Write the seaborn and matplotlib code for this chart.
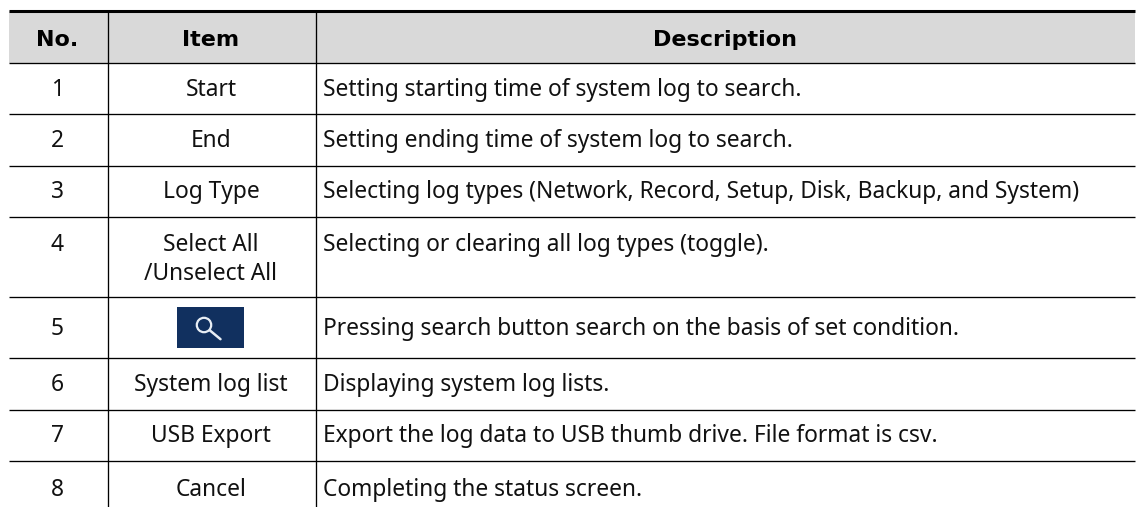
import matplotlib
matplotlib.use("Agg")
import matplotlib.pyplot as plt
import seaborn as sns
from matplotlib.patches import Circle, Rectangle

# table contents
headers = ["No.", "Item", "Description"]
numbers = ["1", "2", "3", "4", "5", "6", "7", "8"]
items = ["Start", "End", "Log Type", "Select All\n/Unselect All", "", "System log list", "USB Export", "Cancel"]
descriptions = [
    "Setting starting time of system log to search.",
    "Setting ending time of system log to search.",
    "Selecting log types (Network, Record, Setup, Disk, Backup, and System)",
    "Selecting or clearing all log types (toggle).",
    "Pressing search button search on the basis of set condition.",
    "Displaying system log lists.",
    "Export the log data to USB thumb drive. File format is csv.",
    "Completing the status screen.",
]

sns.set_theme(style="white")
plt.rcParams["font.family"] = ["Noto Sans", "DejaVu Sans"]

W, H = 1136, 507
fig = plt.figure(figsize=(W / 100, H / 100), dpi=100)
ax = fig.add_axes([0, 0, 1, 1])
ax.set_xlim(0, W)
ax.set_ylim(H, 0)
ax.axis("off")

# layout in pixels
left, right = 8.5, 1135
col1, col2 = 107.5, 315.5
top, head_bottom = 11, 63
row_lines = [63, 114, 165.5, 216.5, 296.5, 358, 409.5, 460.5, 507]
text_size = 16.4
ink = "#111111"

# grey header band as a one cell heatmap
band = fig.add_axes([left / W, 1 - head_bottom / H, (right - left) / W, (head_bottom - top) / H])
sns.heatmap([[1]], ax=band, cmap=["#d9d9d9"], cbar=False, xticklabels=False, yticklabels=False)

ax.set_zorder(band.get_zorder() + 1)
ax.patch.set_visible(False)

ax.hlines(top, left, right, color="black", lw=2.2)
ax.hlines(row_lines[:-1], left, right, color="black", lw=0.95)
ax.vlines([col1, col2], top, H, color="black", lw=0.95)

header_x = [57, 211, 725]
for x, label in zip(header_x, headers):
    ax.text(x, 39.5, label, ha="center", va="center", fontsize=16, fontweight="bold",
            color="black", family=["DejaVu Sans"])

for i, (num, item, desc) in enumerate(zip(numbers, items, descriptions)):
    yc = (row_lines[i] + row_lines[i + 1]) / 2 + 1.5
    if i == 7:
        yc = 489.5
    if num == "4":
        # the tall row keeps its text at the top
        yc = 245
        ax.text(211, 274, item.split("\n")[1], ha="center", va="center", fontsize=text_size, color=ink)
        item = item.split("\n")[0]
    ax.text(57.5, yc, num, ha="center", va="center", fontsize=text_size, color=ink)
    ax.text(211, yc, item, ha="center", va="center", fontsize=text_size, color=ink)
    ax.text(323, yc, desc, ha="left", va="center", fontsize=text_size, color=ink)

# search button in row 5
ax.add_patch(Rectangle((177, 307), 67, 41, color="#11305f", lw=0))
ax.add_patch(Circle((204, 325), 7.2, fill=False, ec="#e8eef5", lw=1.6))
ax.plot([210, 220.5], [330.5, 339.2], color="#e8eef5", lw=1.8, solid_capstyle="round")

fig.savefig("out.png", dpi=100)
